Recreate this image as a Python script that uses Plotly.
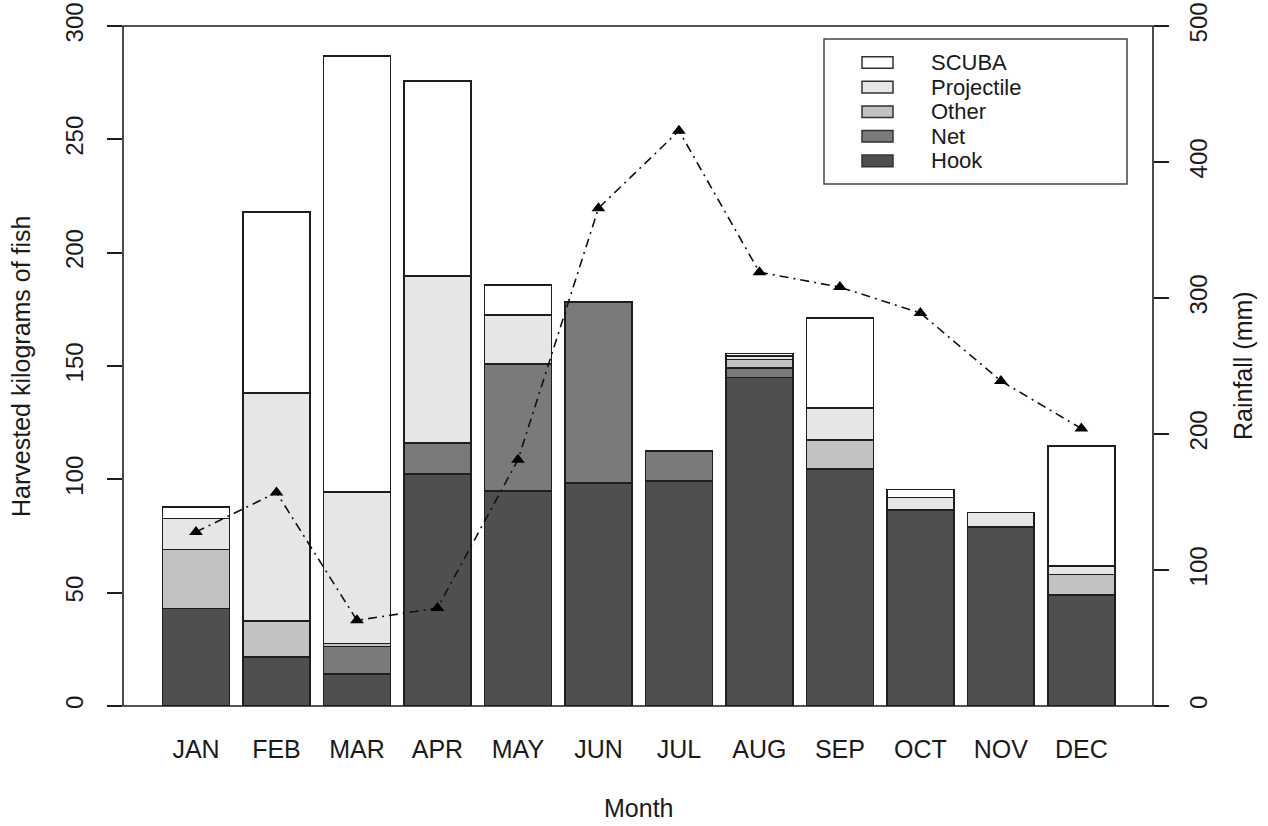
import plotly.graph_objects as go

months = ["JAN", "FEB", "MAR", "APR", "MAY", "JUN", "JUL", "AUG", "SEP", "OCT", "NOV", "DEC"]
hook = [43.1, 21.7, 14.0, 102.3, 94.8, 98.5, 99.2, 145.0, 104.5, 86.5, 79.1, 49.0]
net = [0, 0, 12.2, 13.7, 56.1, 79.7, 13.3, 4.0, 0, 0, 0, 0]
other = [26.0, 15.8, 1.4, 0, 0, 0, 0, 3.8, 12.8, 0, 0, 9.1]
projectile = [13.7, 100.6, 66.9, 73.7, 21.6, 0, 0, 1.6, 14.3, 5.5, 6.2, 3.7]
scuba = [5.0, 79.8, 192.2, 86.0, 13.2, 0, 0, 1.2, 39.6, 3.6, 0, 52.9]
rainfall = [128, 157, 63, 72, 181, 366, 423, 319, 308, 289, 239, 204]

series_names = ["Hook", "Net", "Other", "Projectile", "SCUBA"]
series_values = [hook, net, other, projectile, scuba]
series_colors = ["#4f4f4f", "#7a7a7a", "#c2c2c2", "#e6e6e6", "#ffffff"]

FONT = "Liberation Sans, Arial, sans-serif"
FS = 25
EDGE = "#1e1e1e"

fig = go.Figure()
for name, vals, col in zip(series_names, series_values, series_colors):
    fig.add_trace(go.Bar(
        x=months, y=[v if v else None for v in vals], name=name,
        marker=dict(color=col, line=dict(color=EDGE, width=1.6)),
        width=0.83, showlegend=False,
    ))

fig.add_trace(go.Scatter(
    x=months, y=rainfall, yaxis="y2", mode="lines+markers", showlegend=False,
    line=dict(color="#111111", width=1.6, dash="9px,5px,2px,5px"),
    marker=dict(symbol="triangle-up", size=12, color="#000000"),
))

# ---- manual legend (R style), positioned in paper coordinates ----
# page coordinates of the plot area: x 123..1153, y 26..706
W, H = 1030.0, 680.0
def px(xp):
    return (xp - 123) / W
def py(yp):
    return (706 - yp) / H

shapes = [
    dict(type="rect", xref="paper", yref="paper", x0=0, x1=1, y0=0, y1=1,
         line=dict(color=EDGE, width=1.6), layer="above"),
    dict(type="rect", xref="paper", yref="paper", x0=px(824), x1=px(1127),
         y0=py(184), y1=py(39), line=dict(color="#444444", width=1.5),
         fillcolor="white", layer="above"),
]
annotations = []
leg_order = list(zip(series_names, series_values, series_colors))[::-1]
for i, (name, _vals, col) in enumerate(leg_order):
    cy = 62.5 + i * 24.6
    shapes.append(dict(type="rect", xref="paper", yref="paper",
                       x0=px(862), x1=px(893), y0=py(cy + 5.8), y1=py(cy - 5.8),
                       line=dict(color="#333333", width=1.5), fillcolor=col,
                       layer="above"))
    annotations.append(dict(text=name, xref="paper", yref="paper", x=px(930),
                            y=py(cy), xanchor="left", yanchor="middle",
                            showarrow=False, borderpad=0, font=dict(size=22)))

annotations += [
    dict(text="Month", xref="paper", yref="paper", x=0.5, y=py(808),
         yanchor="middle", showarrow=False, font=dict(size=FS)),
    dict(text="Harvested kilograms of fish", xref="paper", yref="paper",
         x=px(21), xanchor="center", y=0.5, textangle=-90, showarrow=False,
         font=dict(size=FS)),
    dict(text="Rainfall (mm)", xref="paper", yref="paper", x=px(1243),
         xanchor="center", y=0.5, textangle=-90, showarrow=False,
         font=dict(size=FS)),
]

fig.update_layout(
    width=1268, height=826,
    margin=dict(l=123, r=115, t=26, b=120, autoexpand=False),
    paper_bgcolor="white", plot_bgcolor="white",
    barmode="stack", showlegend=False,
    font=dict(family=FONT, size=FS, color="#1a1a1a"),
    xaxis=dict(range=[-0.907, 11.89], showgrid=False, ticks="", showline=False,
               ticklabelstandoff=26, tickfont=dict(size=FS), automargin=False),
    yaxis=dict(range=[0, 300], tickvals=[0, 50, 100, 150, 200, 250, 300],
               showgrid=False, zeroline=False, ticks="outside", ticklen=15,
               tickwidth=1.6, tickcolor=EDGE, tickangle=-90,
               ticklabelstandoff=14, showline=False, automargin=False,
               ticklabeloverflow="allow", tickfont=dict(size=24)),
    yaxis2=dict(range=[0, 500], tickvals=[0, 100, 200, 300, 400, 500],
                overlaying="y", side="right", showgrid=False, zeroline=False,
                ticks="outside", ticklen=15, tickwidth=1.6, tickcolor=EDGE,
                tickangle=-90, ticklabelstandoff=9, showline=False,
                automargin=False, ticklabeloverflow="allow",
                tickfont=dict(size=24)),
    shapes=shapes,
    annotations=annotations,
    hovermode=False,
)

fig.write_html("out.html", config={"displayModeBar": False},
               post_script="document.body.style.margin='0';")
